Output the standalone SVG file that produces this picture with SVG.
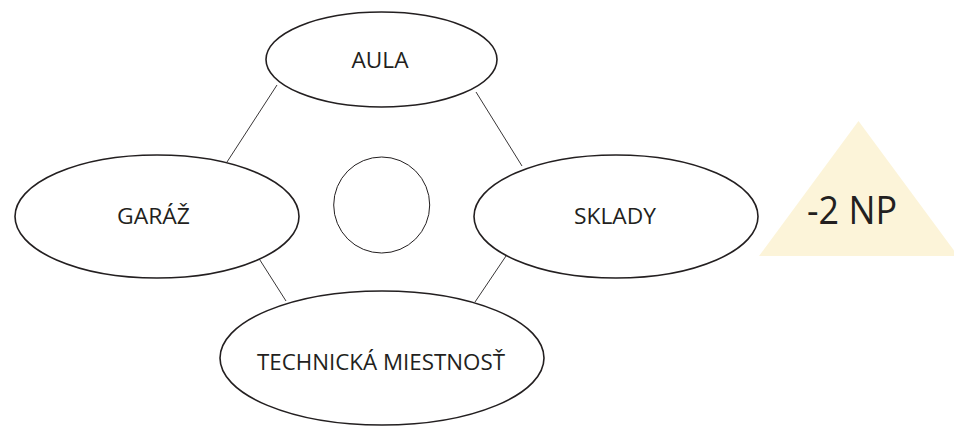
<svg xmlns="http://www.w3.org/2000/svg" width="954" height="428" viewBox="0 0 954 428">
<style>
.node{fill:#fff;stroke:#231f20;stroke-width:1.6}
.lbl{font-family:"Open Sans","Noto Sans","Liberation Sans",sans-serif;font-size:21px;fill:#231f20;text-anchor:middle}
.conn line{stroke:#231f20;stroke-width:0.9}
</style>
<rect width="954" height="428" fill="#fff"/>
<g id="connectors" class="conn">
<line x1="277" y1="85" x2="227" y2="162"/>
<line x1="476" y1="92" x2="522" y2="166"/>
<line x1="258" y1="257" x2="286" y2="301"/>
<line x1="506" y1="256" x2="475" y2="302"/>
</g>
<g id="center"><circle cx="381.7" cy="205" r="48" fill="#fff" stroke="#231f20" stroke-width="1"/></g>
<g id="aula"><ellipse class="node" cx="381.5" cy="59.5" rx="115.5" ry="47.5"/><text class="lbl" x="380" y="68" textLength="57" lengthAdjust="spacingAndGlyphs">AULA</text></g>
<g id="garaz"><ellipse class="node" cx="157" cy="216.5" rx="142" ry="61.5"/><text class="lbl" x="153.5" y="224" textLength="73" lengthAdjust="spacingAndGlyphs">GARÁŽ</text></g>
<g id="sklady"><ellipse class="node" cx="616" cy="216.5" rx="142" ry="61.5"/><text class="lbl" x="615" y="224" textLength="82" lengthAdjust="spacingAndGlyphs">SKLADY</text></g>
<g id="technicka"><ellipse class="node" cx="382" cy="358" rx="162" ry="67"/><text class="lbl" x="381" y="370" textLength="248" lengthAdjust="spacingAndGlyphs">TECHNICKÁ MIESTNOSŤ</text></g>
<g id="level"><polygon points="858.5,121 759,256 958,256" fill="#fcf4d9"/><text x="852" y="224" font-family="'Open Sans','Noto Sans','Liberation Sans',sans-serif" font-size="38" fill="#231f20" text-anchor="middle" textLength="90" lengthAdjust="spacingAndGlyphs">-2 NP</text></g>
</svg>
